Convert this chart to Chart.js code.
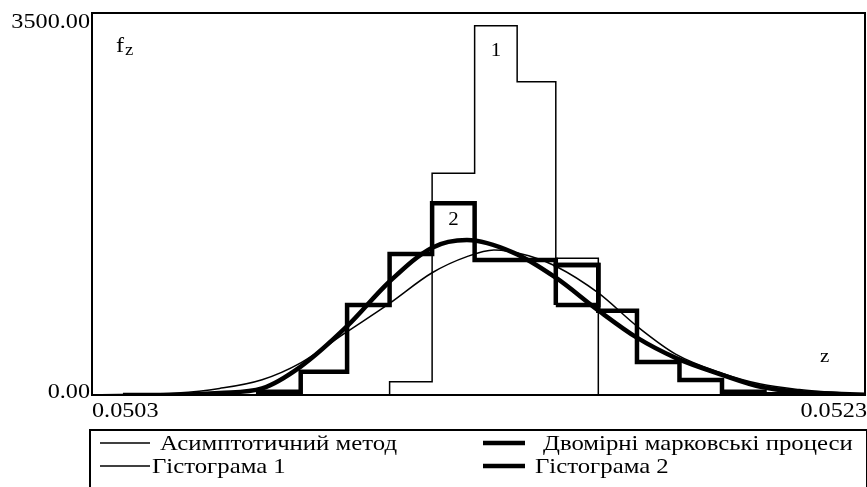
<!DOCTYPE html>
<html>
<head>
<meta charset="utf-8">
<script src="https://cdn.jsdelivr.net/npm/chart.js@4"></script>
<style>
  html, body { margin: 0; padding: 0; background: #fff; }
  canvas { display: block; }
</style>
</head>
<body>
<canvas id="chart" width="867" height="487"></canvas>
<script>
// ---- дані ----
const Z_MIN = 0.0503, Z_MAX = 0.0523;
const F_MIN = 0, F_MAX = 3500;
const yTickLabels = ['0.00', '3500.00'];
const xTickLabels = ['0.0503', '0.0523'];

// асимптотичний метод
const asymZ = [0.0503, 0.05037, 0.05052, 0.05063, 0.05074, 0.05084, 0.05096, 0.05107, 0.05118, 0.05127, 0.05134,
               0.05143, 0.05150, 0.05161, 0.05171, 0.05181, 0.05193, 0.05203, 0.05213, 0.05224, 0.0523];
const asymF = [2, 5, 18, 60, 140, 295, 580, 840, 1120, 1268, 1328,
               1275, 1180, 935, 630, 375, 200, 100, 50, 18, 5];

// двомірні марковські процеси
const markovZ = [0.05038, 0.05053, 0.05063, 0.05074, 0.05084, 0.05096, 0.05107, 0.05118, 0.05127, 0.05139,
                 0.05150, 0.05161, 0.05171, 0.05181, 0.05193, 0.05203, 0.05213, 0.05224, 0.0523];
const markovF = [0, 3, 18, 60, 260, 630, 1040, 1350, 1420, 1305,
                 1075, 775, 525, 340, 185, 75, 28, 9, 2];

// гістограма 1
const hist1Edges = [0.05107, 0.05118, 0.05129, 0.05140, 0.05150, 0.05161];
const hist1Values = [122, 2031, 3384, 2871, 1252];

// гістограма 2
const hist2Edges = [0.05073, 0.05084, 0.05096, 0.05107, 0.05118, 0.05129, 0.05139,
                    0.05150, 0.05161, 0.05171, 0.05182, 0.05193, 0.05204, 0.05215];
const hist2Values = [30, 213, 825, 1292, 1756, 1237, 1237, 1191, 772, 302, 137, 30, 8];
// додаткова рамка в стовпці 0.05150..0.05161
const hist2BoxEdges = [0.05150, 0.05161];
const hist2BoxRange = [825, 1191];

const labels = ['Асимптотичний метод', 'Двомірні марковські процеси', 'Гістограма 1', 'Гістограма 2'];

// ---- допоміжні ----
const FONT = '"Liberation Serif", "Times New Roman", serif';

function text(ctx, str, x, y, align, size, sx = 1.1) {
  ctx.save();
  ctx.font = size + 'px ' + FONT;
  ctx.fillStyle = '#000';
  ctx.textBaseline = 'alphabetic';
  ctx.textAlign = align;
  ctx.translate(x, y);
  ctx.scale(sx, 1);
  ctx.fillText(str, 0, 0);
  ctx.restore();
}

function curve(zs, fs) {
  return zs.map((z, i) => ({ x: z, y: fs[i] }));
}

// сходинки: вертикаль з нуля, горизонталі по стовпцях, вертикаль до нуля
function steps(edges, values) {
  const pts = [{ x: edges[0], y: 0 }];
  values.forEach((v, i) => pts.push({ x: edges[i], y: v }));
  pts.push({ x: edges[edges.length - 1], y: 0 });
  return pts;
}

function box(edges, range) {
  const [a, b] = edges, [lo, hi] = range;
  return [{ x: a, y: lo }, { x: a, y: hi }, { x: b, y: hi }, { x: b, y: lo }, { x: a, y: lo }];
}

// ---- підписи, рамка, легенда ----
const decor = {
  id: 'decor',
  afterDatasetsDraw(chart) {
    const ctx = chart.ctx;
    const { left, top, right, bottom } = chart.chartArea;
    const xs = chart.scales.x, ys = chart.scales.y;

    ctx.save();
    ctx.strokeStyle = '#000';
    ctx.lineWidth = 2;
    ctx.strokeRect(left, top, right - left, bottom - top);

    // осі
    text(ctx, yTickLabels[1], left - 2, top + 15, 'right', 22);
    text(ctx, yTickLabels[0], left - 2, bottom + 3, 'right', 22);
    text(ctx, xTickLabels[0], left, bottom + 22, 'left', 22);
    text(ctx, xTickLabels[1], right + 2, bottom + 22, 'right', 22);

    text(ctx, 'f', left + 24, top + 39, 'left', 22);
    text(ctx, 'z', left + 33, top + 42, 'left', 17);
    text(ctx, 'z', right - 45, bottom - 33, 'left', 19);

    // номери гістограм над найвищими стовпцями
    const mark = (edges, values, str, dy) => {
      const k = values.indexOf(Math.max(...values));
      const cx = xs.getPixelForValue((edges[k] + edges[k + 1]) / 2);
      text(ctx, str, cx, ys.getPixelForValue(values[k]) + dy, 'center', 19);
    };
    mark(hist1Edges, hist1Values, '1', 30);
    mark(hist2Edges, hist2Values, '2', 22);

    // легенда
    const lx = left - 2, ly = 430;
    ctx.lineWidth = 2;
    ctx.strokeRect(lx, ly, right + 2 - lx, 70);
    const items = chart.data.datasets.filter(d => d.label);
    items.forEach((d, i) => {
      const col = i % 2, row = Math.floor(i / 2);
      const x0 = col ? 483 : 100;
      const y0 = row ? 466 : 443;
      ctx.beginPath();
      ctx.lineWidth = d.borderWidth;
      ctx.moveTo(x0, y0);
      ctx.lineTo(x0 + (col ? 42 : 50), y0);
      ctx.stroke();
      text(ctx, d.label, x0 + (row ? 52 : 60), y0 + 7, 'left', 21, 1.18);
    });
    ctx.restore();
  }
};

const THIN = 1.5, THICK = 4.5;
const base = { pointRadius: 0, borderColor: '#000', fill: false };

new Chart(document.getElementById('chart'), {
  type: 'line',
  data: {
    datasets: [
      { ...base, label: labels[0], data: curve(asymZ, asymF), borderWidth: THIN, cubicInterpolationMode: 'monotone' },
      { ...base, label: labels[1], data: curve(markovZ, markovF), borderWidth: THICK, cubicInterpolationMode: 'monotone' },
      { ...base, label: labels[2], data: steps(hist1Edges, hist1Values), borderWidth: THIN, stepped: 'before' },
      { ...base, label: labels[3], data: steps(hist2Edges, hist2Values), borderWidth: THICK, stepped: 'before' },
      { ...base, data: box(hist2BoxEdges, hist2BoxRange), borderWidth: THICK }
    ]
  },
  options: {
    responsive: false,
    animation: false,
    layout: { padding: { left: 92, top: 13, right: 2, bottom: 92 } },
    plugins: { legend: { display: false }, tooltip: { enabled: false } },
    scales: {
      x: { type: 'linear', min: Z_MIN, max: Z_MAX, display: false },
      y: { type: 'linear', min: F_MIN, max: F_MAX, display: false }
    }
  },
  plugins: [decor]
});
</script>
</body>
</html>
